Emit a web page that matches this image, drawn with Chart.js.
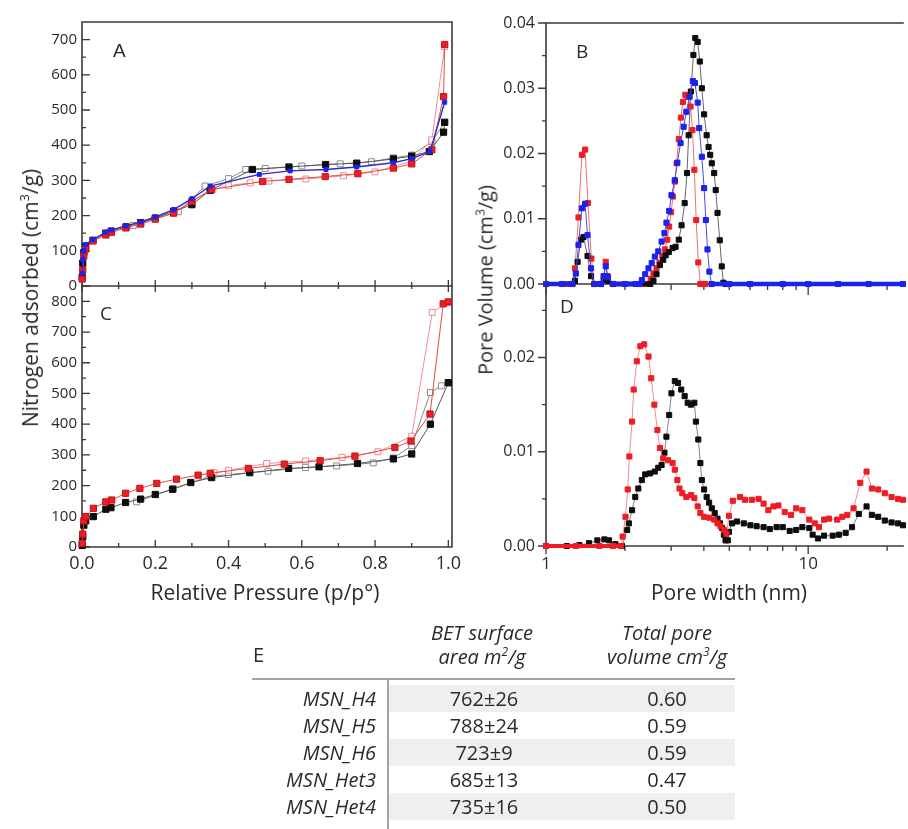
<!DOCTYPE html>
<html>
<head>
<meta charset="utf-8">
<script src="https://cdn.jsdelivr.net/npm/chart.js@4.4.1/dist/chart.umd.min.js"></script>
<style>
  html, body { margin: 0; padding: 0; background: #fff; }
  #fig { position: relative; width: 908px; height: 829px; overflow: hidden;
         font-family: "Open Sans", sans-serif; color: #2a2a2a; }
  #fig canvas { position: absolute; left: 0; top: 0; }
  .txt { position: absolute; white-space: nowrap; }
  .ctr { transform: translate(-50%, -50%); }
  .rot { transform: translate(-50%, -50%) rotate(-90deg); }
  .letter { font-size: 19px; }
  .head { position: absolute; font-style: italic; font-size: 20px; line-height: 24px;
          text-align: center; transform: translateX(-50%); white-space: nowrap; }
  .row { position: absolute; height: 27px; line-height: 27px; font-size: 20px; white-space: nowrap; }
  sup { font-size: 0.6em; line-height: 0; vertical-align: 0.7em; }
</style>
</head>
<body>
<div id="fig">
  <canvas id="cA" width="908" height="829"></canvas>
  <canvas id="cC" width="908" height="829"></canvas>
  <canvas id="cB" width="908" height="829"></canvas>
  <canvas id="cD" width="908" height="829"></canvas>

  <div class="txt letter" style="left:113px;top:40px;font-family:'Liberation Sans',sans-serif;">A</div>
  <div class="txt letter" style="left:576px;top:38px;">B</div>
  <div class="txt letter" style="left:100px;top:300px;">C</div>
  <div class="txt letter" style="left:560px;top:293px;">D</div>

  <div class="txt rot" style="left:30px;top:298px;font-size:21px;">Nitrogen adsorbed (cm<sup>3</sup>/g)</div>
  <div class="txt rot" style="left:485px;top:280px;font-size:20px;">Pore Volume (cm<sup>3</sup>/g)</div>
  <div class="txt ctr" style="left:265px;top:592px;font-size:21px;">Relative Pressure (p/p°)</div>
  <div class="txt ctr" style="left:729px;top:592px;font-size:21px;">Pore width (nm)</div>

  <div id="table"></div>
</div>

<script>
// ── Panel A : isotherms (filled = adsorption, open = desorption) ─────────────
const A_P_BLK_ADS = [0.0005, 0.002, 0.005, 0.01, 0.03, 0.065, 0.08, 0.12, 0.16, 0.2, 0.25, 0.3, 0.35, 0.465, 0.565, 0.665, 0.75, 0.85, 0.9, 0.948, 0.987, 0.99];
const A_V_BLK_ADS = [25, 65, 95, 112, 130, 150, 156, 168, 180, 193, 212, 231, 272, 331, 338, 345, 349, 361, 369, 382, 437, 465];
const A_P_BLK_DES = [0.99, 0.955, 0.9, 0.85, 0.79, 0.705, 0.6, 0.5, 0.447, 0.4, 0.336, 0.263, 0.2, 0.14];
const A_V_BLK_DES = [465, 410, 372, 364, 353, 347, 341, 334, 331, 305, 284, 211, 192, 172];

const A_P_RED_ADS = [0.0005, 0.002, 0.005, 0.01, 0.03, 0.065, 0.08, 0.12, 0.16, 0.2, 0.25, 0.3, 0.354, 0.493, 0.565, 0.664, 0.753, 0.85, 0.9, 0.955, 0.987, 0.99];
const A_V_RED_ADS = [20, 45, 85, 105, 128, 145, 152, 165, 176, 190, 207, 240, 274, 297, 303, 311, 319, 335, 347, 387, 538, 686];
const A_P_RED_DES = [0.99, 0.955, 0.9, 0.8, 0.714, 0.611, 0.51, 0.459, 0.4, 0.35, 0.3, 0.25];
const A_V_RED_DES = [680, 415, 355, 324, 313, 304, 298, 293, 285, 272, 243, 208];

const A_P_BLU_ADS = [0.0005, 0.002, 0.005, 0.01, 0.03, 0.065, 0.08, 0.12, 0.16, 0.2, 0.25, 0.3, 0.35, 0.484, 0.568, 0.666, 0.75, 0.85, 0.9, 0.95, 0.99];
const A_V_BLU_ADS = [35, 75, 100, 118, 132, 153, 159, 171, 182, 196, 217, 248, 284, 317, 327, 331, 338, 350, 362, 382, 522];

// ── Panel C : isotherms ──────────────────────────────────────────────────────
const C_P_BLK_ADS = [0.0005, 0.002, 0.005, 0.01, 0.031, 0.065, 0.079, 0.119, 0.16, 0.2, 0.247, 0.297, 0.354, 0.458, 0.564, 0.647, 0.752, 0.85, 0.9, 0.951, 1.0];
const C_V_BLK_ADS = [5, 33, 71, 85, 99, 123, 128, 145, 156, 171, 188, 210, 226, 242, 256, 261, 272, 287, 303, 400, 535];
const C_P_BLK_DES = [1.0, 0.981, 0.951, 0.9, 0.85, 0.795, 0.695, 0.61, 0.508, 0.4, 0.35, 0.25, 0.149];
const C_V_BLK_DES = [535, 525, 503, 330, 290, 274, 264, 259, 247, 236, 230, 190, 147];

const C_P_RED_ADS = [0.0005, 0.002, 0.005, 0.01, 0.031, 0.065, 0.081, 0.119, 0.158, 0.204, 0.258, 0.317, 0.35, 0.454, 0.552, 0.65, 0.745, 0.854, 0.898, 0.95, 0.986, 1.0];
const C_V_RED_ADS = [12, 42, 85, 99, 126, 147, 153, 175, 191, 207, 221, 234, 240, 256, 270, 281, 296, 324, 345, 433, 792, 798];
const C_P_RED_DES = [1.0, 0.956, 0.9, 0.808, 0.71, 0.61, 0.504, 0.4, 0.36];
const C_V_RED_DES = [798, 764, 361, 310, 292, 280, 272, 250, 242];

// ── Panel B : pore size distributions ───────────────────────────────────────
const B_W_BLU = [1.0, 1.15, 1.26, 1.30, 1.33, 1.37, 1.41, 1.44, 1.485, 1.53, 1.62, 1.66, 1.69, 1.72, 1.8, 2.0, 2.2, 2.28, 2.32, 2.39, 2.46, 2.53, 2.6, 2.68, 2.76, 2.83, 2.88, 2.95, 3.01, 3.1, 3.17, 3.26, 3.35, 3.43, 3.53, 3.63, 3.7, 3.79, 3.84, 3.93, 4.01, 4.07, 4.13, 4.2, 4.28, 5, 6, 8, 10, 13, 17, 23];
const B_V_BLU = [0, 0, 0, 0.0016, 0.006, 0.0116, 0.0123, 0.0075, 0.0024, 0, 0, 0.0012, 0.0027, 0.001, 0, 0, 0, 0, 0.0006, 0.0015, 0.0024, 0.0032, 0.0042, 0.005, 0.0065, 0.0078, 0.0094, 0.0112, 0.0136, 0.0159, 0.0186, 0.0216, 0.0241, 0.0264, 0.0287, 0.0311, 0.0308, 0.0278, 0.0239, 0.0195, 0.0147, 0.0098, 0.0053, 0.0019, 0, 0, 0, 0, 0, 0, 0, 0];

const B_W_RED = [1.2, 1.26, 1.29, 1.33, 1.37, 1.41, 1.445, 1.49, 1.53, 1.62, 1.66, 1.69, 1.72, 1.8, 2.4, 2.45, 2.51, 2.57, 2.64, 2.71, 2.78, 2.84, 2.9, 2.95, 3.0, 3.05, 3.1, 3.15, 3.21, 3.27, 3.33, 3.4, 3.48, 3.56, 3.62, 3.68, 3.74, 3.81, 3.88, 3.95, 4.05];
const B_V_RED = [0, 0, 0.0024, 0.0102, 0.0198, 0.0206, 0.0124, 0.0039, 0, 0, 0.0012, 0.0034, 0.0012, 0, 0, 0, 0.0008, 0.0016, 0.0024, 0.0033, 0.0043, 0.0053, 0.0068, 0.0088, 0.011, 0.0134, 0.0157, 0.0185, 0.0222, 0.0255, 0.0279, 0.029, 0.0287, 0.0272, 0.0236, 0.0175, 0.0098, 0.0033, 0, 0, 0];

const B_W_BLK = [1.26, 1.29, 1.32, 1.36, 1.39, 1.44, 1.485, 1.53, 1.62, 1.66, 1.69, 1.72, 1.8, 2.5, 2.57, 2.64, 2.72, 2.8, 2.86, 2.94, 3.04, 3.12, 3.21, 3.29, 3.38, 3.45, 3.5, 3.57, 3.65, 3.71, 3.79, 3.86, 3.93, 4.01, 4.1, 4.17, 4.23, 4.29, 4.38, 4.44, 4.51, 4.6, 4.68, 4.75, 4.85];
const B_V_BLK = [0, 0.0005, 0.0034, 0.0068, 0.0072, 0.0043, 0.0012, 0, 0, 0.0006, 0.0012, 0.0005, 0, 0, 0.0005, 0.0015, 0.0029, 0.0037, 0.0044, 0.0049, 0.0055, 0.0057, 0.0068, 0.009, 0.0124, 0.017, 0.0228, 0.0295, 0.0351, 0.0377, 0.0371, 0.0341, 0.03, 0.026, 0.0228, 0.021, 0.0198, 0.0185, 0.017, 0.0144, 0.0109, 0.0067, 0.0027, 0.0002, 0];

// ── Panel D : pore size distributions ───────────────────────────────────────
const D_W_RED = [1.0, 1.3, 1.6, 1.8, 1.93, 1.96, 2.01, 2.05, 2.08, 2.13, 2.16, 2.22, 2.29, 2.37, 2.46, 2.52, 2.59, 2.66, 2.72, 2.8, 2.92, 3.04, 3.1, 3.17, 3.23, 3.31, 3.43, 3.58, 3.68, 3.79, 3.88, 4.01, 4.2, 4.38, 4.51, 4.63, 4.77, 4.88, 4.99, 5.16, 5.5, 5.74, 6.1, 6.47, 6.76, 7.05, 7.37, 7.7, 8.14, 8.6, 9.0, 9.5, 10.1, 10.6, 11.0, 11.5, 12.0, 12.9, 13.5, 14.1, 14.9, 15.8, 16.7, 17.5, 18.5, 19.6, 20.8, 22.0, 23.0];
const D_V_RED = [0, 0, 0, 0, 0, 0.001, 0.0031, 0.006, 0.0095, 0.0132, 0.0166, 0.0196, 0.0212, 0.0214, 0.0201, 0.0178, 0.015, 0.0123, 0.0104, 0.0093, 0.0091, 0.0088, 0.0081, 0.007, 0.0061, 0.0056, 0.0052, 0.0054, 0.0051, 0.0042, 0.0035, 0.0031, 0.003, 0.0028, 0.0024, 0.0021, 0.0017, 0.0013, 0.0032, 0.0048, 0.0052, 0.0049, 0.0049, 0.005, 0.0045, 0.0038, 0.0042, 0.0043, 0.0036, 0.0033, 0.004, 0.0038, 0.0028, 0.0024, 0.002, 0.0028, 0.0029, 0.0028, 0.0031, 0.0033, 0.004, 0.0067, 0.0079, 0.0061, 0.006, 0.0056, 0.0052, 0.005, 0.0049];

const D_W_BLK = [1.0, 1.2, 1.34, 1.46, 1.57, 1.67, 1.74, 1.84, 1.95, 2.04, 2.07, 2.13, 2.19, 2.25, 2.32, 2.39, 2.49, 2.6, 2.68, 2.76, 2.83, 2.88, 2.95, 3.01, 3.1, 3.19, 3.28, 3.38, 3.47, 3.57, 3.68, 3.73, 3.81, 3.88, 3.93, 4.01, 4.1, 4.19, 4.29, 4.4, 4.51, 4.61, 4.7, 4.77, 4.84, 4.94, 4.99, 5.12, 5.35, 5.68, 6.02, 6.36, 6.76, 7.14, 7.58, 8.0, 8.5, 9.0, 9.5, 10.1, 10.4, 10.9, 11.5, 12.4, 13.1, 13.9, 14.7, 15.6, 16.7, 17.5, 18.5, 19.6, 20.8, 22.0, 23.0];
const D_V_BLK = [0, 0, 0.0001, 0.0003, 0.0006, 0.0007, 0.0006, 0.0002, 0, 0.0017, 0.0024, 0.0038, 0.0052, 0.0061, 0.007, 0.0076, 0.0077, 0.0079, 0.0083, 0.0086, 0.0099, 0.0116, 0.0139, 0.0162, 0.0175, 0.0173, 0.0166, 0.0159, 0.0152, 0.015, 0.0152, 0.0132, 0.0113, 0.0088, 0.007, 0.006, 0.0052, 0.0046, 0.004, 0.0035, 0.0029, 0.0024, 0.0019, 0.0012, 0.0006, 0.0006, 0.0015, 0.0024, 0.0026, 0.0024, 0.0022, 0.0021, 0.002, 0.0018, 0.002, 0.002, 0.0016, 0.0017, 0.002, 0.0019, 0.0012, 0.0008, 0.0011, 0.0011, 0.0012, 0.0014, 0.002, 0.0034, 0.0042, 0.0033, 0.0031, 0.0027, 0.0025, 0.0024, 0.0022];

// ── Tick values ──────────────────────────────────────────────────────────────
const P_TICKS = [0, 0.2, 0.4, 0.6, 0.8, 1.0];
const P_MINOR = [0.1, 0.3, 0.5, 0.7, 0.9];
const A_V_TICKS = [0, 100, 200, 300, 400, 500, 600, 700];
const A_V_MINOR = [50, 150, 250, 350, 450, 550, 650];
const C_V_TICKS = [0, 100, 200, 300, 400, 500, 600, 700, 800];
const C_V_MINOR = [50, 150, 250, 350, 450, 550, 650, 750];
const B_PV_TICKS = [0, 0.01, 0.02, 0.03, 0.04];
const B_PV_MINOR = [0.005, 0.015, 0.025, 0.035];
const D_PV_TICKS = [0, 0.01, 0.02];
const D_PV_MINOR = [0.005, 0.015, 0.025];
const W_TICKS = [1, 10];
const W_MINOR = [2, 3, 4, 5, 6, 7, 8, 9, 20];

// ── Table E ──────────────────────────────────────────────────────────────────
const SAMPLES = ["MSN_H4", "MSN_H5", "MSN_H6", "MSN_Het3", "MSN_Het4"];
const BET_AREA = ["762±26", "788±24", "723±9", "685±13", "735±16"];
const PORE_VOL = ["0.60", "0.59", "0.59", "0.47", "0.50"];

// ── Styling ──────────────────────────────────────────────────────────────────
const FONT = '"Open Sans", sans-serif';
const INK = "#2a2a2a";
const FRAME = "#3a3a3a";
const BLACK = "#0d0d0d";
const RED = "#ee1c24";
const BLUE = "#1a22ee";
const W = 908, H = 829, YW = 60, XH = 40;

const pts = (xs, ys) => xs.map((x, i) => ({ x, y: ys[i] }));

function series(xs, ys, o) {
    return {
        data: pts(xs, ys),
        showLine: true,
        clip: false,
        borderColor: o.line,
        borderWidth: o.lw || 1,
        pointStyle: "rect",
        pointRadius: o.r,
        pointBackgroundColor: o.fill,
        pointBorderColor: o.edge,
        pointBorderWidth: 1,
        segment: o.band ? {
            borderWidth: c => (c.p0.parsed.y === 0 && c.p1.parsed.y === 0) ? o.band : (o.lw || 1),
            borderColor: c => (c.p0.parsed.y === 0 && c.p1.parsed.y === 0) ? o.edge : o.line,
        } : undefined,
    };
}

// frame + tick marks (in / out) drawn under the data
const frameTicks = {
    id: "frameTicks",
    beforeDatasetsDraw(chart, args, opts) {
        const { ctx, chartArea: a } = chart;
        ctx.save();
        ctx.strokeStyle = FRAME;
        ctx.lineWidth = 1.6;
        ctx.lineCap = "square";
        ctx.beginPath();
        const side = {
            top: [a.left, a.top, a.right, a.top],
            bottom: [a.left, a.bottom, a.right, a.bottom],
            left: [a.left, a.top, a.left, a.bottom],
            right: [a.right, a.top, a.right, a.bottom],
        };
        for (const s of opts.sides) {
            const [x1, y1, x2, y2] = side[s];
            ctx.moveTo(x1, y1);
            ctx.lineTo(x2, y2);
        }
        ctx.stroke();
        ctx.lineWidth = 1.3;
        ctx.lineCap = "butt";
        ctx.beginPath();
        for (const m of opts.marks) {
            const sc = chart.scales[m.axis];
            for (const v of m.values) {
                const p = sc.getPixelForValue(v);
                if (m.edge === "bottom") {
                    ctx.moveTo(p, a.bottom + m.from);
                    ctx.lineTo(p, a.bottom + m.to);
                } else if (m.edge === "left") {
                    ctx.moveTo(a.left - m.from, p);
                    ctx.lineTo(a.left - m.to, p);
                }
            }
        }
        ctx.stroke();
        ctx.restore();
    },
};

function makePanel(id, area, xScale, yScale, datasets, frame) {
    const tickFont = size => ({ family: FONT, size });
    const base = {
        grid: { display: false, drawTicks: false },
        border: { display: false },
    };
    return new Chart(document.getElementById(id), {
        type: "scatter",
        data: { datasets },
        plugins: [frameTicks],
        options: {
            responsive: false,
            animation: false,
            events: [],
            layout: {
                padding: { left: area.l - YW, top: area.t, right: W - area.r, bottom: H - area.b - XH },
            },
            plugins: {
                legend: { display: false },
                tooltip: { enabled: false },
                frameTicks: frame,
            },
            scales: {
                x: Object.assign({}, base, xScale, {
                    ticks: Object.assign({ color: INK, font: tickFont(17), autoSkip: false, maxRotation: 0 }, xScale.ticks),
                    afterBuildTicks: s => { s.ticks = xScale.tickValues.map(v => ({ value: v })); },
                    afterFit: s => { s.height = XH; },
                }),
                y: Object.assign({}, base, yScale, {
                    ticks: Object.assign({ color: INK, font: tickFont(15), autoSkip: false }, yScale.ticks),
                    afterBuildTicks: s => { s.ticks = yScale.tickValues.map(v => ({ value: v })); },
                    afterFit: s => { s.width = YW; },
                }),
            },
        },
    });
}

// ── Panel A ──
makePanel("cA", { l: 82, t: 22, r: 452, b: 286 },
    { type: "linear", min: 0, max: 1.01, tickValues: P_TICKS, ticks: { display: false } },
    { type: "linear", min: 0, max: 750, tickValues: A_V_TICKS, ticks: { padding: 5 } },
    [
        series(A_P_BLU_ADS, A_V_BLU_ADS, { line: "#2a2ad0", lw: 1.4, r: 2.8, fill: BLUE, edge: BLUE }),
        series(A_P_RED_ADS, A_V_RED_ADS, { line: "#e24a4a", r: 4.4, fill: RED, edge: "#c41418" }),
        series(A_P_BLK_ADS, A_V_BLK_ADS, { line: "#555", r: 4.4, fill: BLACK, edge: BLACK }),
        series(A_P_RED_DES, A_V_RED_DES, { line: "#f09090", r: 4.2, fill: "#fff", edge: "#f08a8a" }),
        series(A_P_BLK_DES, A_V_BLK_DES, { line: "#8a8a8a", r: 4.2, fill: "#fff", edge: "#8a8a8a" }),
    ],
    {
        sides: ["top", "bottom", "left", "right"],
        marks: [
            { axis: "y", edge: "left", values: A_V_TICKS, from: 0, to: -8 },
            { axis: "y", edge: "left", values: A_V_MINOR, from: 0, to: -4 },
            { axis: "x", edge: "bottom", values: P_TICKS, from: -6, to: 6 },
            { axis: "x", edge: "bottom", values: P_MINOR, from: -4, to: 3 },
        ],
    });

// ── Panel C ──
makePanel("cC", { l: 82, t: 286, r: 452, b: 547 },
    { type: "linear", min: 0, max: 1.01, tickValues: P_TICKS,
      ticks: { padding: 6, font: { family: FONT, size: 18 }, callback: v => v.toFixed(1) } },
    { type: "linear", min: 0, max: 850, tickValues: C_V_TICKS, ticks: { padding: 5 } },
    [
        series(C_P_RED_ADS, C_V_RED_ADS, { line: "#e24a4a", r: 4.4, fill: RED, edge: "#c41418" }),
        series(C_P_BLK_ADS, C_V_BLK_ADS, { line: "#555", r: 4.4, fill: BLACK, edge: BLACK }),
        series(C_P_RED_DES, C_V_RED_DES, { line: "#f09090", r: 4.2, fill: "#fff", edge: "#f08a8a" }),
        series(C_P_BLK_DES, C_V_BLK_DES, { line: "#8a8a8a", r: 4.2, fill: "#fff", edge: "#8a8a8a" }),
    ],
    {
        sides: ["bottom", "left", "right"],
        marks: [
            { axis: "y", edge: "left", values: C_V_TICKS, from: 0, to: -8 },
            { axis: "y", edge: "left", values: C_V_MINOR, from: 0, to: -4 },
            { axis: "x", edge: "bottom", values: P_TICKS, from: 0, to: -7 },
            { axis: "x", edge: "bottom", values: P_MINOR, from: 0, to: -4 },
        ],
    });

// ── Panel B ──
makePanel("cB", { l: 546, t: 23, r: 908, b: 284 },
    { type: "logarithmic", min: 1, max: 23, tickValues: W_TICKS, ticks: { display: false } },
    { type: "linear", min: 0, max: 0.04, tickValues: B_PV_TICKS,
      ticks: { padding: 11, font: { family: FONT, size: 16 }, callback: v => v.toFixed(2) } },
    [
        series(B_W_BLU, B_V_BLU, { line: "#4a4ae0", r: 3.6, fill: BLUE, edge: BLUE, band: 4.5 }),
        series(B_W_BLK, B_V_BLK, { line: "#666", r: 3.6, fill: BLACK, edge: BLACK, band: 4.5 }),
        series(B_W_RED, B_V_RED, { line: "#f07070", r: 3.6, fill: RED, edge: RED, band: 4.5 }),
    ],
    {
        sides: ["top", "left", "bottom"],
        marks: [
            { axis: "y", edge: "left", values: B_PV_TICKS, from: 0, to: 8 },
            { axis: "y", edge: "left", values: B_PV_MINOR, from: 0, to: 4 },
            { axis: "x", edge: "bottom", values: W_TICKS, from: 0, to: 11 },
            { axis: "x", edge: "bottom", values: W_MINOR, from: 0, to: 6 },
        ],
    });

// ── Panel D ──
makePanel("cD", { l: 546, t: 284, r: 908, b: 546 },
    { type: "logarithmic", min: 1, max: 23, tickValues: W_TICKS,
      ticks: { padding: 8, callback: v => String(v) } },
    { type: "linear", min: 0, max: 0.0278, tickValues: D_PV_TICKS,
      ticks: { padding: 11, font: { family: FONT, size: 16 }, callback: v => v.toFixed(2) } },
    [
        series(D_W_RED, D_V_RED, { line: "#f07070", lw: 0.8, r: 3.6, fill: RED, edge: RED, band: 4 }),
        series(D_W_BLK, D_V_BLK, { line: "#666", lw: 0.8, r: 3.6, fill: BLACK, edge: BLACK, band: 4 }),
    ],
    {
        sides: ["left", "bottom"],
        marks: [
            { axis: "y", edge: "left", values: D_PV_TICKS, from: 0, to: 8 },
            { axis: "y", edge: "left", values: D_PV_MINOR, from: 0, to: 4 },
            { axis: "x", edge: "bottom", values: W_TICKS, from: 0, to: 8 },
            { axis: "x", edge: "bottom", values: W_MINOR, from: 0, to: 5 },
        ],
    });

// ── Table E ──
(function buildTable() {
    const root = document.getElementById("table");
    let html = "";
    html += '<div class="txt" style="left:253px;top:641px;font-size:20px;">E</div>';
    html += '<div class="head" style="left:482px;top:621px;">BET surface<br>area m<sup>2</sup>/g</div>';
    html += '<div class="head" style="left:667px;top:621px;">Total pore<br>volume cm<sup>3</sup>/g</div>';
    html += '<div style="position:absolute;left:252px;top:678px;width:483px;height:2px;background:#a3a3a3;"></div>';
    SAMPLES.forEach((name, i) => {
        const top = 685 + 27 * i;
        if (i % 2 === 0) {
            html += `<div style="position:absolute;left:389px;top:${top}px;width:346px;height:27px;background:#efefef;"></div>`;
        }
        html += `<div class="row" style="right:${W - 376}px;top:${top}px;font-style:italic;text-align:right;">${name}</div>`;
        html += `<div class="row" style="left:484px;top:${top}px;transform:translateX(-50%);">${BET_AREA[i]}</div>`;
        html += `<div class="row" style="left:667px;top:${top}px;transform:translateX(-50%);">${PORE_VOL[i]}</div>`;
    });
    html += '<div style="position:absolute;left:387px;top:680px;width:2px;height:149px;background:#a3a3a3;"></div>';
    root.innerHTML = html;
})();
</script>
</body>
</html>
